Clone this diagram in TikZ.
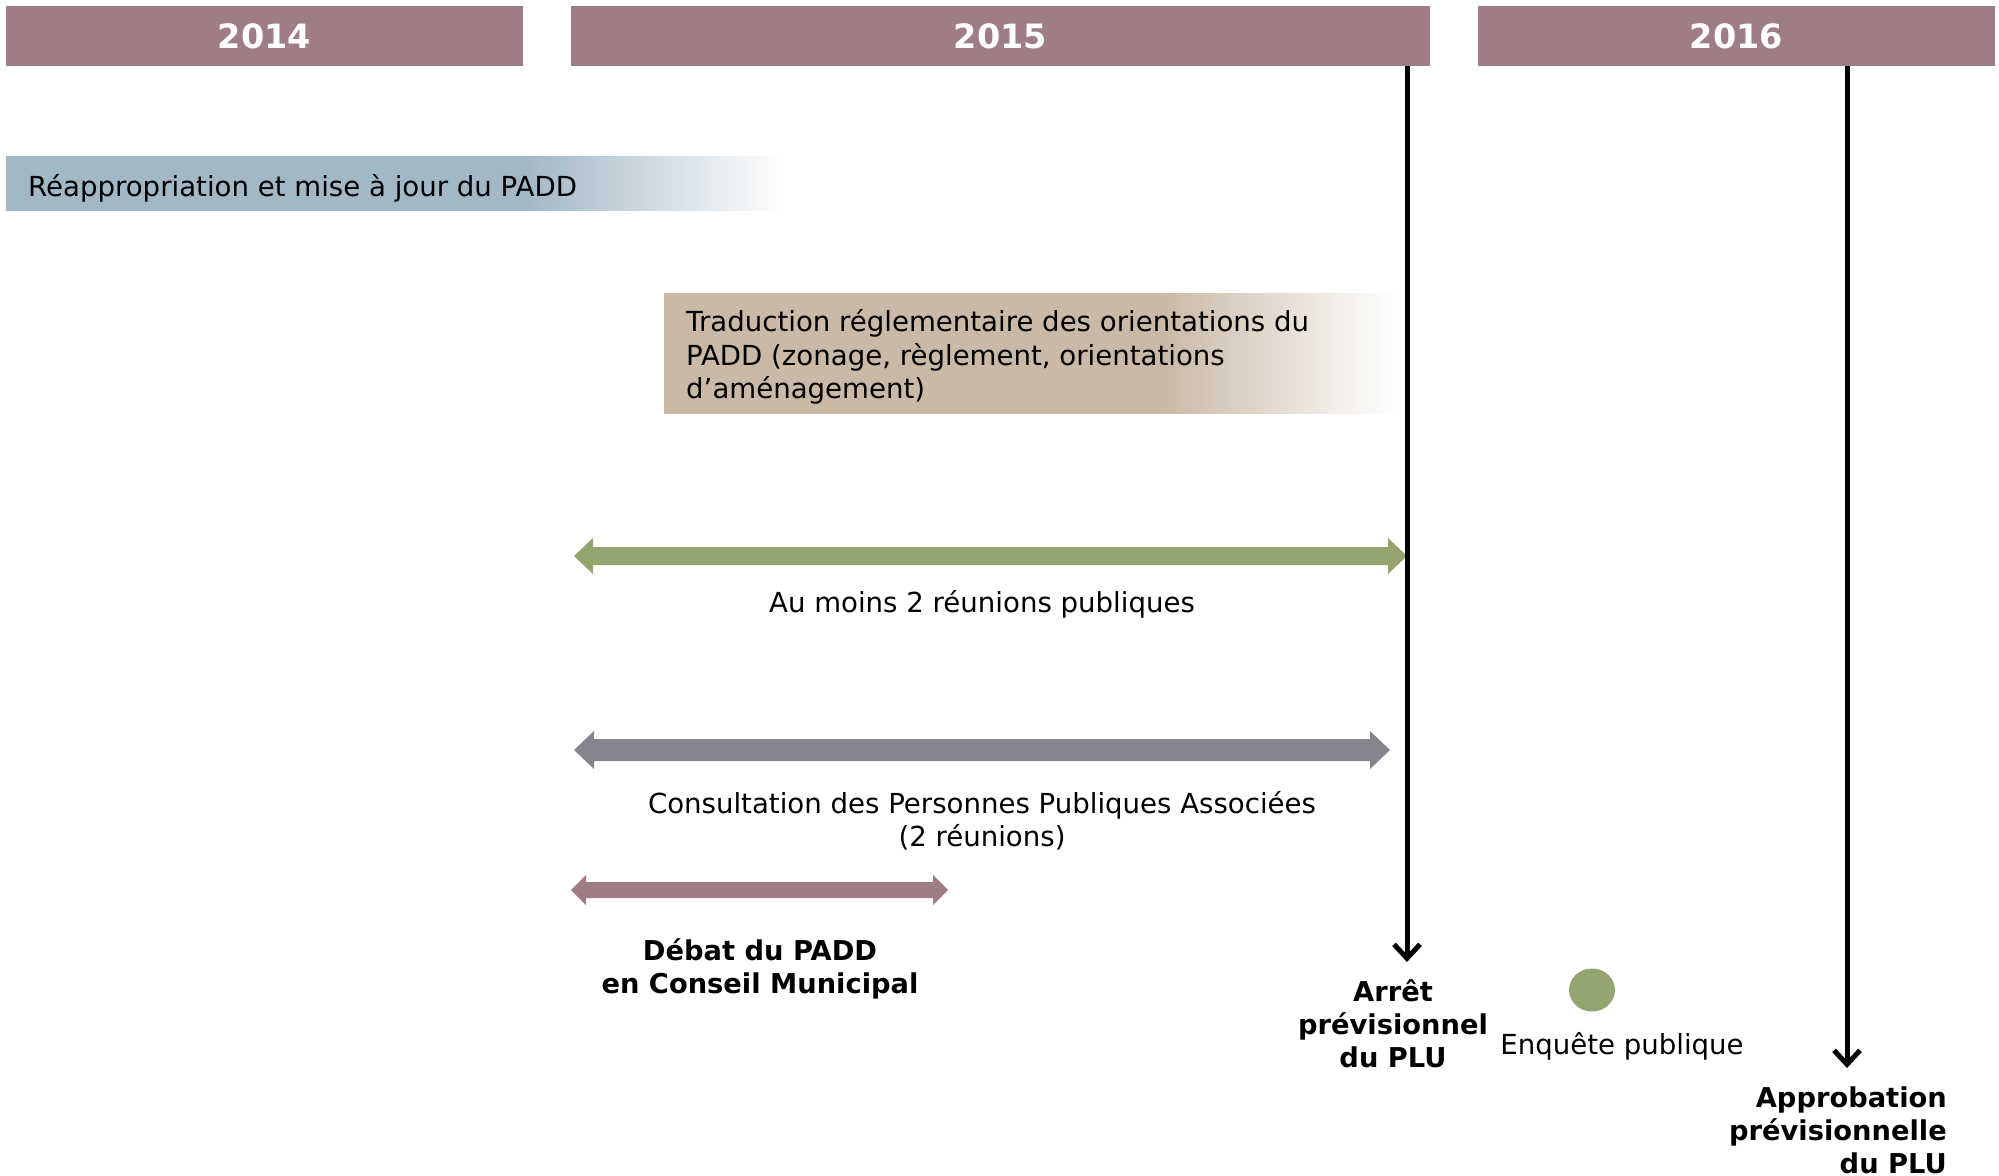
\documentclass[tikz,border=0pt]{standalone}
\usepackage{fontspec}
\setmainfont{DejaVu Sans}
\usetikzlibrary{arrows.meta,shapes.geometric}
\definecolor{mauve}{RGB}{158,125,132}
\definecolor{bluebar}{RGB}{163,184,198}
\definecolor{tanbar}{RGB}{201,185,166}
\definecolor{greenbar}{RGB}{148,165,111}
\definecolor{graybar}{RGB}{134,132,140}
\pgfdeclarehorizontalshading{blueshade}{100bp}{color(0bp)=(bluebar); color(58.5bp)=(bluebar); color(75bp)=(white); color(100bp)=(white)}
\pgfdeclarehorizontalshading{tanshade}{100bp}{color(0bp)=(tanbar); color(58.9bp)=(tanbar); color(75bp)=(white); color(100bp)=(white)}
\newcommand{\dblarrow}[7]{%
  \fill[#7] (#1,#3) -- ({#1+#6},{#3-#5}) -- ({#1+#6},{#3-#4}) -- ({#2-#6},{#3-#4}) -- ({#2-#6},{#3-#5}) -- (#2,#3)
   -- ({#2-#6},{#3+#5}) -- ({#2-#6},{#3+#4}) -- ({#1+#6},{#3+#4}) -- ({#1+#6},{#3+#5}) -- cycle;}
\tikzset{
  yearbar/.style={fill=mauve, text=white, minimum height=60pt, inner sep=0pt,
    font=\fontsize{33.5}{40}\selectfont\bfseries},
  lbl/.style={inner sep=0pt, font=\fontsize{27.6}{33.2}\selectfont, align=center},
  blbl/.style={inner sep=0pt, font=\fontsize{27.3}{33}\selectfont\bfseries, align=center},
  vline/.style={line width=5pt, -{Straight Barb[length=14pt,width=26pt,line width=5pt]}},
}
\begin{document}
\begin{tikzpicture}[x=1pt,y=-1pt]
\useasboundingbox (0,0) rectangle (1999,1175);
% year headers
\node[yearbar, minimum width=517pt] (y2014) at (264.5,36) {\raisebox{-1pt}{2014}};
\node[yearbar, minimum width=859pt] (y2015) at (1000.5,36) {\raisebox{-1pt}{2015}};
\node[yearbar, minimum width=517pt] (y2016) at (1736.5,36) {\raisebox{-1pt}{2016}};
% blue bar
\shade[shading=blueshade] (6,156) rectangle (784,210);
\node[lbl, anchor=west] (reapp) at (28,188) {Réappropriation et mise à jour du PADD};
% tan box
\shade[shading=tanshade] (664,293) rectangle (1396,413);
\node[lbl, anchor=west, align=left] (trad) at (686,357) {Traduction réglementaire des orientations du\\PADD (zonage, règlement, orientations\\d’aménagement)};
% double arrows
\dblarrow{574}{1407}{556}{9}{18}{19}{greenbar}
\node[lbl] (reunions) at (982,604) {Au moins 2 réunions publiques};
\dblarrow{574}{1390}{750}{11}{19}{20}{graybar}
\node[lbl] (ppa) at (982,821) {Consultation des Personnes Publiques Associées\\(2 réunions)};
\dblarrow{571}{948}{890}{8}{15}{15}{mauve}
\node[blbl] (debat) at (760,969) {Débat du PADD\\en Conseil Municipal};
% vertical milestones
\coordinate (t1) at (1407,962);
\coordinate (t2) at (1847,1068);
\draw[vline] (y2015.south -| t1) -- (t1);
\draw[vline] (y2016.south -| t2) -- (t2);
\node[blbl] (arret) at (1393,1024) {Arrêt\\prévisionnel\\du PLU};
\node[fill=greenbar, ellipse, minimum width=46pt, minimum height=43pt, inner sep=0pt] (dot) at (1592,990) {};
\node[lbl] (enquete) at (1622,1046) {Enquête publique};
\node[blbl, anchor=east, align=right] (approb) at (1947,1130) {Approbation\\prévisionnelle\\du PLU};
\end{tikzpicture}
\end{document}
